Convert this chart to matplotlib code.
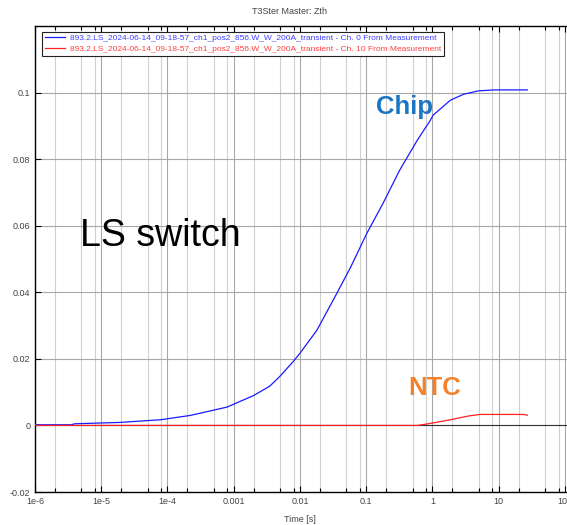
import matplotlib.pyplot as plt
from matplotlib.ticker import FixedLocator, NullFormatter

plt.rcParams['font.family'] = ['Liberation Sans', 'DejaVu Sans']

# Zth curves
chip_t = [1e-6, 3.5e-6, 4e-6, 1.9e-5, 7.8e-5, 2.2e-4, 7.9e-4, 2e-3, 3.5e-3, 5e-3,
          7.9e-3, 1e-2, 1.8e-2, 3.6e-2, 5.8e-2, 0.102, 0.18, 0.32, 0.59, 0.93,
          1.02, 1.86, 2.95, 4.9, 8.3, 27]
chip_z = [0.0002, 0.0002, 0.0005, 0.0009, 0.0017, 0.003, 0.0055, 0.009, 0.0118, 0.0148,
          0.0192, 0.0217, 0.0286, 0.0397, 0.0475, 0.0577, 0.0668, 0.0767, 0.0857, 0.0917,
          0.0932, 0.0977, 0.0995, 0.1005, 0.1008, 0.1008]

ntc_t = [1e-6, 0.59, 0.87, 1.86, 3.4, 5.2, 23, 27]
ntc_z = [0.0, 0.0, 0.0005, 0.0017, 0.0028, 0.0033, 0.0033, 0.0031]

xticks = [1e-6, 1e-5, 1e-4, 1e-3, 1e-2, 1e-1, 1, 10, 100]
xticklabels = ["1e-6", "1e-5", "1e-4", "0.001", "0.01", "0.1", "1", "10", "100"]
yticks = [-0.02, 0, 0.02, 0.04, 0.06, 0.08, 0.1]
yticklabels = ["-0.02", "0", "0.02", "0.04", "0.06", "0.08", "0.1"]

minor = [m * 10.0 ** e for e in range(-6, 3) for m in (2, 5, 8)]

W, H = 567, 525
fig = plt.figure(figsize=(W / 100, H / 100), dpi=100)
ax = fig.add_axes([35 / W, 33 / H, (575 - 35) / W, (492 - 26) / H])

ax.set_xscale("log")
ax.set_xlim(1e-6, 10 ** (2 + 10 / 66.2))
ax.set_ylim(-0.02, 0.12)

ax.xaxis.set_major_locator(FixedLocator(xticks))
ax.xaxis.set_minor_locator(FixedLocator(minor))
ax.xaxis.set_minor_formatter(NullFormatter())
ax.set_xticklabels(xticklabels)
ax.set_yticks(yticks)
ax.set_yticklabels(yticklabels)

ax.grid(True, which="major", color="#a8a8a8", lw=0.8)
ax.grid(True, which="minor", axis="x", color="#d0d0d0", lw=0.8)
ax.set_axisbelow(True)
ax.axhline(0, color="#333333", lw=0.8, zorder=1)

ax.tick_params(which="both", direction="in", top=True, right=False,
               labelsize=6.5, labelcolor="#444444", length=4, width=0.8)
ax.tick_params(which="minor", length=3)
for s in ("left", "bottom", "top"):
    ax.spines[s].set_linewidth(1.0)
ax.spines["right"].set_visible(False)

ax.plot(chip_t, chip_z, color="#1a1aff", lw=0.9, zorder=3,
        label="893.2.LS_2024-06-14_09-18-57_ch1_pos2_856.W_W_200A_transient - Ch. 0 From Measurement")
ax.plot(ntc_t, ntc_z, color="#ff2020", lw=0.9, zorder=3,
        label="893.2.LS_2024-06-14_09-18-57_ch1_pos2_856.W_W_200A_transient - Ch. 10 From Measurement")

leg = ax.legend(loc="upper left", bbox_to_anchor=(0.005, 0.997), fontsize=6.0,
                frameon=True, fancybox=False, edgecolor="#222222", framealpha=1,
                handlelength=2.4, borderpad=0.35, labelspacing=0.35, handletextpad=0.6)
leg.get_frame().set_linewidth(0.8)
for txt, c in zip(leg.get_texts(), ["#4040ff", "#ff4040"]):
    txt.set_color(c)

ax.text(4.8e-6, 0.054, "LS switch", fontsize=27, color="black")
ax.text(0.138, 0.0936, "Chip", fontsize=18.5, fontweight="bold", color="#1a75c4")
ax.text(0.43, 0.009, "NTC", fontsize=18.5, fontweight="bold", color="#f5822a")

fig.text(290 / W, 1 - 12 / H, "T3Ster Master: Zth", ha="center", va="center",
         fontsize=6.5, color="#444444")
fig.text(300 / W, 1 - 519 / H, "Time [s]", ha="center", va="center",
         fontsize=6.5, color="#444444")

fig.savefig("out.png", dpi=100)
